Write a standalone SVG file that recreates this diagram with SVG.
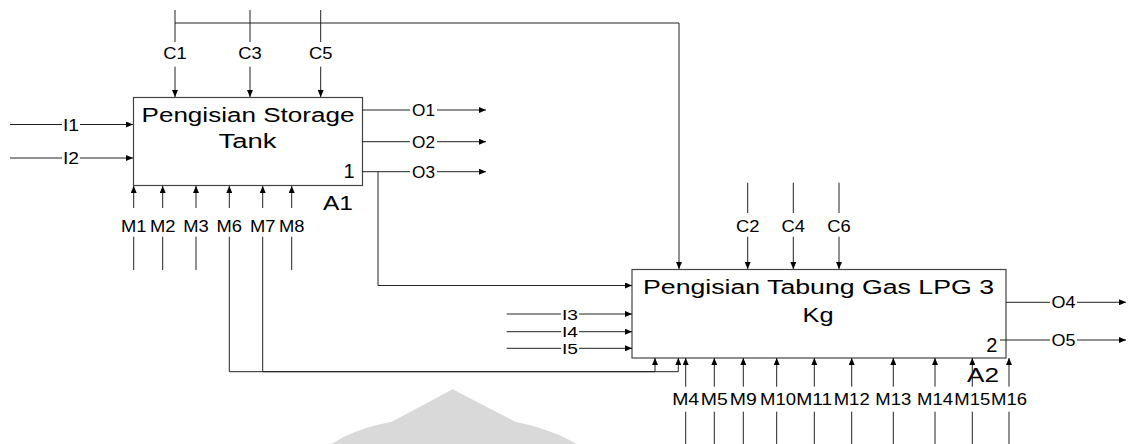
<svg xmlns="http://www.w3.org/2000/svg" width="1133" height="444" viewBox="0 0 1133 444">
<style>
.box{fill:#fff;stroke:#444;stroke-width:1.2}
.ln{fill:none;stroke:#222;stroke-width:1}
.arr{fill:none;stroke:#222;stroke-width:1;marker-end:url(#ah)}
.t{font-family:"Liberation Sans",Arial,sans-serif;font-size:20px;fill:#000;text-anchor:middle}
.lb{font-family:"Liberation Sans",Arial,sans-serif;font-size:17px;fill:#000;text-anchor:middle}
.ls{font-family:"Liberation Sans",Arial,sans-serif;font-size:15.5px;fill:#000;text-anchor:middle}
</style>
<defs>
<marker id="ah" markerWidth="8" markerHeight="6" refX="7" refY="3" orient="auto" markerUnits="userSpaceOnUse">
<path d="M0,0 L7,3 L0,6 z" fill="#000"/>
</marker>
</defs>
<rect width="1133" height="444" fill="#fff"/>
<path d="M331.7,444 C350,432 370,426 391.7,421.7 L452.7,389.3 L515,421.7 C540,427 560,434 576.7,444 Z" fill="#d9d9d9"/>

<g id="A1">
<rect class="box" x="133.5" y="97.5" width="229" height="88"/>
<text class="t" x="248" y="121.7" textLength="213" lengthAdjust="spacingAndGlyphs">Pengisian Storage</text>
<text class="t" x="247.5" y="147.7" textLength="58" lengthAdjust="spacingAndGlyphs">Tank</text>
<text class="t" x="349" y="178">1</text>
<text class="t" x="338" y="210" textLength="30" lengthAdjust="spacingAndGlyphs">A1</text>
</g>

<g id="A2">
<rect class="box" x="632" y="269.5" width="374" height="88.5"/>
<text class="t" x="818.5" y="294" textLength="351" lengthAdjust="spacingAndGlyphs">Pengisian Tabung Gas LPG 3</text>
<text class="t" x="818" y="321.7" textLength="31" lengthAdjust="spacingAndGlyphs">Kg</text>
<text class="t" x="991.7" y="351.7">2</text>
<text class="t" x="983" y="381.7" textLength="32" lengthAdjust="spacingAndGlyphs">A2</text>
</g>

<g id="connectors">
<!-- controls A1 -->
<path class="ln" d="M175,10 V42 M175,23 H679"/>
<path class="arr" d="M679,23 V269"/>
<path class="arr" d="M175,66.7 V97"/>
<path class="ln" d="M250,10 V42"/>
<path class="arr" d="M250,66.7 V97"/>
<path class="ln" d="M320.7,10 V42"/>
<path class="arr" d="M320.7,66.7 V97"/>
<text class="lb" x="175" y="59" textLength="23.5" lengthAdjust="spacingAndGlyphs">C1</text>
<text class="lb" x="250" y="59" textLength="23.5" lengthAdjust="spacingAndGlyphs">C3</text>
<text class="lb" x="320.7" y="59" textLength="23.5" lengthAdjust="spacingAndGlyphs">C5</text>

<!-- inputs A1 -->
<path class="ln" d="M10,124.5 H62"/>
<path class="arr" d="M80,124.5 H133"/>
<text class="lb" x="71" y="130.5" textLength="16" lengthAdjust="spacingAndGlyphs">I1</text>
<path class="ln" d="M10,158 H62"/>
<path class="arr" d="M80,158 H133"/>
<text class="lb" x="71" y="164" textLength="16" lengthAdjust="spacingAndGlyphs">I2</text>

<!-- outputs A1 -->
<path class="ln" d="M362,110 H410"/>
<path class="arr" d="M437,110 H486"/>
<text class="lb" x="423.5" y="116" textLength="23" lengthAdjust="spacingAndGlyphs">O1</text>
<path class="ln" d="M362,141.7 H410"/>
<path class="arr" d="M437,141.7 H486"/>
<text class="lb" x="423.5" y="147.7" textLength="23" lengthAdjust="spacingAndGlyphs">O2</text>
<path class="ln" d="M362,171.7 H410"/>
<path class="arr" d="M437,171.7 H486"/>
<text class="lb" x="423.5" y="177.7" textLength="23" lengthAdjust="spacingAndGlyphs">O3</text>
<path class="arr" d="M378,171.7 V285.5 H632"/>

<!-- mechanisms A1 -->
<path class="arr" d="M133.7,208 V186"/>
<path class="arr" d="M162.7,208 V186"/>
<path class="arr" d="M196,208 V186"/>
<path class="arr" d="M229.3,208 V186"/>
<path class="arr" d="M262.7,208 V186"/>
<path class="arr" d="M291.7,208 V186"/>
<path class="ln" d="M133.7,236.7 V270 M162.7,236.7 V270 M196,236.7 V270 M291.7,236.7 V270"/>
<path class="arr" d="M229.3,236.7 V371.7 H655 V358"/>
<path class="arr" d="M262.7,236.7 V371.7 H678.3 V358"/>
<text class="lb" x="133.7" y="231.7" textLength="25.5" lengthAdjust="spacingAndGlyphs">M1</text>
<text class="lb" x="162.7" y="231.7" textLength="25.5" lengthAdjust="spacingAndGlyphs">M2</text>
<text class="lb" x="196" y="231.7" textLength="25.5" lengthAdjust="spacingAndGlyphs">M3</text>
<text class="lb" x="229.3" y="231.7" textLength="25.5" lengthAdjust="spacingAndGlyphs">M6</text>
<text class="lb" x="262.7" y="231.7" textLength="25.5" lengthAdjust="spacingAndGlyphs">M7</text>
<text class="lb" x="291.7" y="231.7" textLength="25.5" lengthAdjust="spacingAndGlyphs">M8</text>

<!-- controls A2 -->
<path class="ln" d="M747.7,182.7 V213 M793.3,182.7 V213 M839,182.7 V213"/>
<path class="arr" d="M747.7,236.7 V269"/>
<path class="arr" d="M793.3,236.7 V269"/>
<path class="arr" d="M839,236.7 V269"/>
<text class="lb" x="747.7" y="231.7" textLength="23.5" lengthAdjust="spacingAndGlyphs">C2</text>
<text class="lb" x="793.3" y="231.7" textLength="23.5" lengthAdjust="spacingAndGlyphs">C4</text>
<text class="lb" x="839" y="231.7" textLength="23.5" lengthAdjust="spacingAndGlyphs">C6</text>

<!-- inputs A2 -->
<path class="ln" d="M506.7,314 H561"/>
<path class="arr" d="M579,314 H632"/>
<text class="ls" x="570" y="319.5" textLength="16" lengthAdjust="spacingAndGlyphs">I3</text>
<path class="ln" d="M506.7,331.7 H561"/>
<path class="arr" d="M579,331.7 H632"/>
<text class="ls" x="570" y="337.2" textLength="16" lengthAdjust="spacingAndGlyphs">I4</text>
<path class="ln" d="M506.7,348.3 H561"/>
<path class="arr" d="M579,348.3 H632"/>
<text class="ls" x="570" y="353.8" textLength="16" lengthAdjust="spacingAndGlyphs">I5</text>

<!-- outputs A2 -->
<path class="ln" d="M1006,302.3 H1050"/>
<path class="arr" d="M1077,302.3 H1126"/>
<text class="lb" x="1063.5" y="308.3" textLength="24" lengthAdjust="spacingAndGlyphs">O4</text>
<path class="ln" d="M1000,340 H1050"/>
<path class="arr" d="M1077,340 H1126"/>
<text class="lb" x="1063.5" y="346" textLength="24" lengthAdjust="spacingAndGlyphs">O5</text>

<!-- mechanisms A2 -->
<path class="arr" d="M685.7,386.7 V358"/>
<path class="arr" d="M714.3,386.7 V358"/>
<path class="arr" d="M743.3,386.7 V358"/>
<path class="arr" d="M776.7,386.7 V358"/>
<path class="arr" d="M814.3,386.7 V358"/>
<path class="arr" d="M851.7,386.7 V358"/>
<path class="arr" d="M893.3,386.7 V358"/>
<path class="arr" d="M935,386.7 V358"/>
<path class="arr" d="M972.3,386.7 V358"/>
<path class="arr" d="M1009,386.7 V358"/>
<path class="ln" d="M685.7,411.7 V444 M714.3,411.7 V444 M743.3,411.7 V444 M776.7,411.7 V444 M814.3,411.7 V444 M851.7,411.7 V444 M893.3,411.7 V444 M935,411.7 V444 M972.3,411.7 V444 M1009,411.7 V444"/>
<text class="lb" x="685.7" y="405" textLength="27" lengthAdjust="spacingAndGlyphs">M4</text>
<text class="lb" x="714.3" y="405" textLength="27" lengthAdjust="spacingAndGlyphs">M5</text>
<text class="lb" x="743.3" y="405" textLength="27" lengthAdjust="spacingAndGlyphs">M9</text>
<text class="lb" x="778" y="405" textLength="36" lengthAdjust="spacingAndGlyphs">M10</text>
<text class="lb" x="814.3" y="405" textLength="36" lengthAdjust="spacingAndGlyphs">M11</text>
<text class="lb" x="851.7" y="405" textLength="36" lengthAdjust="spacingAndGlyphs">M12</text>
<text class="lb" x="893.3" y="405" textLength="36" lengthAdjust="spacingAndGlyphs">M13</text>
<text class="lb" x="935" y="405" textLength="36" lengthAdjust="spacingAndGlyphs">M14</text>
<text class="lb" x="972.3" y="405" textLength="36" lengthAdjust="spacingAndGlyphs">M15</text>
<text class="lb" x="1009" y="405" textLength="36" lengthAdjust="spacingAndGlyphs">M16</text>
</g>
</svg>
